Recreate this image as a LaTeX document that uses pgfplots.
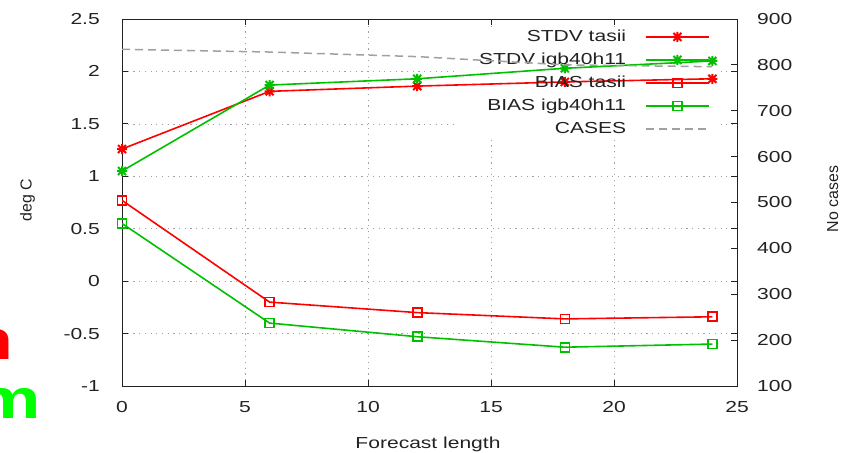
\documentclass[border=0pt]{standalone}
\usepackage{pgfplots}
\pgfplotsset{compat=1.18}
\usepackage{fontspec}
\setmainfont{Liberation Sans}[FakeStretch=1.32]
\newfontfamily\plainsans{Liberation Sans}
\definecolor{gpred}{RGB}{255,0,0}
\definecolor{gpgreen}{RGB}{0,192,0}
\definecolor{lime}{RGB}{0,255,0}
\definecolor{gptext}{RGB}{34,34,34}
\definecolor{gpgrid}{RGB}{160,160,160}

% gnuplot style asterisk: plus and cross
\pgfdeclareplotmark{gpstar}{%
  \pgfpathmoveto{\pgfqpoint{-\pgfplotmarksize}{0pt}}%
  \pgfpathlineto{\pgfqpoint{\pgfplotmarksize}{0pt}}%
  \pgfpathmoveto{\pgfqpoint{0pt}{-\pgfplotmarksize}}%
  \pgfpathlineto{\pgfqpoint{0pt}{\pgfplotmarksize}}%
  \pgfpathmoveto{\pgfqpoint{-.8\pgfplotmarksize}{-.8\pgfplotmarksize}}%
  \pgfpathlineto{\pgfqpoint{.8\pgfplotmarksize}{.8\pgfplotmarksize}}%
  \pgfpathmoveto{\pgfqpoint{-.8\pgfplotmarksize}{.8\pgfplotmarksize}}%
  \pgfpathlineto{\pgfqpoint{.8\pgfplotmarksize}{-.8\pgfplotmarksize}}%
  \pgfusepathqstroke}

\pgfplotstableread{
x  stdvt stdvi biast biasi
0  1.26  1.05  0.77  0.55
6  1.81  1.87 -0.20 -0.40
12 1.86  1.93 -0.30 -0.53
18 1.90  2.03 -0.36 -0.63
24 1.93  2.10 -0.34 -0.60
}\stats

\begin{document}
\begin{tikzpicture}[font=\fontsize{16}{19}\selectfont, text=gptext]
\useasboundingbox (0,0) rectangle (842bp,453bp);

\begin{axis}[
    at={(122bp,67bp)}, anchor=south west,
    scale only axis, width=615bp, height=367bp,
    xmin=0, xmax=25, ymin=-1, ymax=2.5,
    xtick={0,5,10,15,20,25},
    xticklabels={0,5,10,15,20,25},
    ytick={-1,-0.5,0,0.5,1,1.5,2,2.5},
    yticklabels={-1,-0.5,0,0.5,1,1.5,2,2.5},
    tick align=inside, xtick pos=both, ytick pos=both,
    xticklabel pos=bottom, yticklabel pos=left,
    major tick length=6bp,
    axis line style={gptext, line width=0.9bp},
    tick style={gptext, line width=0.9bp},
    grid=major,
    grid style={gpgrid, line width=0.7bp, dash pattern=on 1.2bp off 4.5bp},
    yticklabel style={inner sep=0pt, anchor=east, xshift=-22bp},
    xticklabel style={inner sep=0pt, anchor=north, yshift=-15.5bp},
    legend plot pos=right,
    legend cell align=right,
    legend image code/.code={
        \draw[mark repeat=2, mark phase=2, #1]
            plot coordinates {(0bp,0bp) (31.5bp,0bp) (63bp,0bp)};},
    legend style={at={(rel axis cs:0.956,0.973)}, anchor=north east,
        draw=none, fill=none, inner sep=0pt,
        nodes={inner sep=0pt, text height=12bp, text depth=3.5bp},
        row sep=7.5bp, column sep=19bp},
]
% key box hides the grid behind the legend
\fill[white] (13.54,1.365) rectangle (24.23,2.424);

\addplot[gpred, line width=1.6bp, mark=gpstar, mark size=5bp,
    mark options={line width=2bp}]
    table[x=x, y=stdvt] {\stats};
\addlegendentry{STDV tasii}
\addplot[gpgreen, line width=1.6bp, mark=gpstar, mark size=5bp,
    mark options={line width=2bp}]
    table[x=x, y=stdvi] {\stats};
\addlegendentry{STDV igb40h11}
\addplot[gpred, line width=1.6bp, mark=square, mark size=4.5bp]
    table[x=x, y=biast] {\stats};
\addlegendentry{BIAS tasii}
\addplot[gpgreen, line width=1.6bp, mark=square, mark size=4.5bp]
    table[x=x, y=biasi] {\stats};
\addlegendentry{BIAS igb40h11}
\addlegendimage{gpgrid, line width=1.5bp, dash pattern=on 8bp off 5bp}
\addlegendentry{CASES}
\end{axis}

\begin{axis}[
    at={(122bp,67bp)}, anchor=south west,
    scale only axis, width=615bp, height=367bp,
    xmin=0, xmax=25, ymin=100, ymax=900,
    hide x axis,
    axis y line*=right,
    y axis line style={-},
    ytick={100,200,300,400,500,600,700,800,900},
    yticklabels={100,200,300,400,500,600,700,800,900},
    tick align=inside,
    major tick length=6bp,
    axis line style={gptext, line width=0.9bp},
    tick style={gptext, line width=0.9bp},
    yticklabel style={inner sep=0pt, anchor=west, xshift=20bp},
]
\addplot[gpgrid, line width=1.5bp, dash pattern=on 8bp off 5bp]
    coordinates {(0,834) (6,828) (12,818) (18,800) (24,796)};
\end{axis}

\node[rotate=90, anchor=base, font=\plainsans\fontsize{16}{19}\selectfont]
    at (31.5bp,253bp) {deg C};
\node[rotate=90, anchor=base, font=\plainsans\fontsize{16}{19}\selectfont]
    at (838bp,254bp) {No cases};
\node[anchor=base] at (428bp,5bp) {Forecast length};

\node[anchor=base east, inner sep=0pt, text=gpred,
    font=\fontsize{56}{60}\selectfont\bfseries] at (14bp,93bp) {n};
\node[anchor=base east, inner sep=0pt, text=lime,
    font=\fontsize{56}{60}\selectfont\bfseries] at (41.5bp,35bp) {m};
\end{tikzpicture}
\end{document}
